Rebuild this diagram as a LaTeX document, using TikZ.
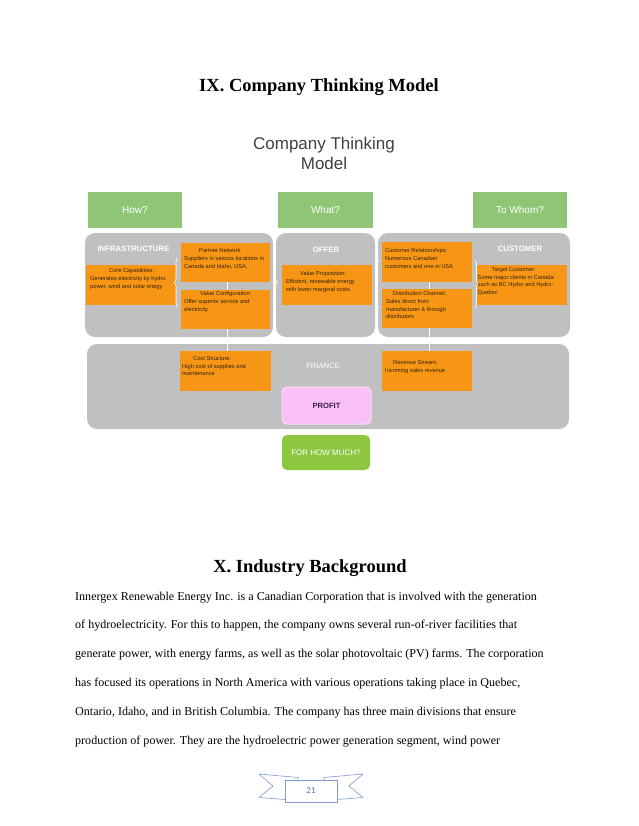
\documentclass[tikz,border=0pt]{standalone}
\usepackage{fontspec}
\setmainfont{Liberation Serif}
\setsansfont{Liberation Sans}
\newfontfamily\carlito{Carlito}
\usetikzlibrary{calc,decorations.pathreplacing}
\definecolor{gbox}{RGB}{192,192,192}
\definecolor{qgreen}{RGB}{143,198,118}
\definecolor{lgreen}{RGB}{141,198,63}
\definecolor{obox}{RGB}{247,150,20}
\definecolor{otext}{RGB}{55,35,15}
\definecolor{pinkbox}{RGB}{248,192,246}
\definecolor{pinkline}{RGB}{252,222,250}
\definecolor{ptext}{RGB}{60,30,70}
\definecolor{ctitle}{RGB}{64,64,64}
\definecolor{ribbon}{RGB}{125,155,205}
\definecolor{pgnum}{RGB}{80,110,170}
\begin{document}
\begin{tikzpicture}[x=1pt,y=-1pt,
  qbox/.style={fill=qgreen, draw=none, inner sep=0pt, text=white,
    font=\sffamily\fontsize{10}{12}\selectfont},
  graybox/.style={fill=gbox, draw=none, rounded corners=10pt, inner sep=0pt},
  orangebox/.style={fill=obox, draw=none, inner sep=0pt},
  otxt/.style={inner sep=0pt, anchor=north west, align=left, text=otext,
    font=\sffamily\fontsize{5.7}{7.6}\selectfont},
  glabel/.style={inner sep=0pt, text=white, font=\sffamily\bfseries\fontsize{7.8}{9}\selectfont},
  link/.style={draw=white, line width=0.8pt},
  bracel/.style={draw=white, line width=0.6pt, decorate,
    decoration={brace, amplitude=4pt}},
  heading/.style={inner sep=0pt, font=\bfseries\fontsize{18.5}{22}\selectfont},
  bodyline/.style={inner sep=0pt, anchor=base west, font=\fontsize{12.05}{14}\selectfont}
]
\useasboundingbox[fill=white] (0,0) rectangle (638,826);

% Title
\node[heading] (title) at (319,87) {IX. Company Thinking Model};

% Diagram title
\node[inner sep=0pt, align=center, text=ctitle,
  font=\sffamily\fontsize{17}{20}\selectfont] (ctm) at (324,153) {Company Thinking\\Model};

% Question boxes
\node[qbox, minimum width=94pt, minimum height=36pt] (how) at (135,210) {How?};
\node[qbox, minimum width=95pt, minimum height=36pt] (what) at (325.5,210) {What?};
\node[qbox, minimum width=94pt, minimum height=36pt] (whom) at (520,210) {To Whom?};

% Gray areas
\node[graybox, minimum width=188pt, minimum height=104pt] (infra) at (179,285) {};
\node[graybox, minimum width=99pt, minimum height=104pt] (offer) at (325.5,285) {};
\node[graybox, minimum width=192pt, minimum height=104pt] (customer) at (474,285) {};
\node[graybox, minimum width=482pt, minimum height=85pt] (finance) at (328,386.5) {};

% Gray labels
\node[glabel] (linfra) at (133.5,249) {INFRASTRUCTURE};
\node[glabel] (loffer) at (326,250) {OFFER};
\node[glabel] (lcust) at (520,249) {CUSTOMER};
\node[inner sep=0pt, text=white, font=\sffamily\fontsize{7.6}{9}\selectfont] (lfin) at (323,366) {FINANCE};

% Orange boxes
\node[orangebox, minimum width=90pt, minimum height=40pt] (core) at (131,285) {};
\node[orangebox, minimum width=89pt, minimum height=39pt] (pn) at (225.5,262.5) {};
\node[orangebox, minimum width=89pt, minimum height=39pt] (vc) at (225.5,309.5) {};
\node[orangebox, minimum width=90pt, minimum height=40pt] (vp) at (327,285) {};
\node[orangebox, minimum width=90pt, minimum height=40pt] (cr) at (427,262) {};
\node[orangebox, minimum width=90pt, minimum height=39pt] (dc) at (427,308.5) {};
\node[orangebox, minimum width=90pt, minimum height=40pt] (tc) at (522,285) {};
\node[orangebox, minimum width=91pt, minimum height=40pt] (cs) at (225.5,371) {};
\node[orangebox, minimum width=90pt, minimum height=40pt] (rs) at (427,371) {};

% Links between stacked boxes
\draw[link] ($(pn.south)+(1.5,0)$) -- ($(vc.north)+(1.5,0)$);
\draw[link] ($(vc.south)+(1.5,0)$) -- ($(cs.north)+(1.5,0)$);
\draw[link] ($(cr.south)+(2,0)$) -- ($(dc.north)+(2,0)$);
\draw[link] ($(dc.south)+(2,0)$) -- ($(rs.north)+(2,0)$);

% Braces
\coordinate (b1a) at (178,307); \coordinate (b1b) at (178,258);
\coordinate (b2a) at (273.5,258); \coordinate (b2b) at (273.5,307);
\coordinate (b3a) at (379.5,308); \coordinate (b3b) at (379.5,260);
\coordinate (b4a) at (474.5,260); \coordinate (b4b) at (474.5,308);
\draw[bracel] (b1a) -- (b1b);
\draw[bracel] (b2a) -- (b2b);
\draw[bracel] (b3a) -- (b3b);
\draw[bracel] (b4a) -- (b4b);

% Orange box texts
\node[otxt] (tcore) at (90,268.5) {\hspace*{19pt}Core Capabilities:\\Generates electricity by hydro\\power, wind and solar enegy};
\node[otxt] (tpn) at (184,248.5) {\hspace*{15pt}Partner Network\\Suppliers in various locations in\\Canada and Idaho, USA.};
\node[otxt] (tvc) at (184,291.5) {\hspace*{16pt}Value Configuration:\\Offer superior service and\\electricity};
\node[otxt] (tvp) at (286,271.5) {\hspace*{14pt}Value Proposition:\\Efficient, renewable energy\\with lower marginal costs};
\node[otxt] (tcr) at (385,248.5) {Customer Relationships:\\Numerous Canadian\\customers and one in USA};
\node[otxt] (tdc) at (386,291.5) {\hspace*{7pt}Distribution Channel:\\Sales direct from\\manufacturer \& through\\distributors};
\node[otxt] (ttc) at (477.5,267.5) {\hspace*{14pt}Target Customer:\\Some major clients in Canada\\such as BC Hydro and Hydro-\\Quebec};
\node[otxt] (tcs) at (182,356.5) {\hspace*{11pt}Cost Structure:\\High cost of supplies and\\maintenance};
\node[otxt] (trs) at (385,360.5) {\hspace*{8pt}Revenue Stream:\\Incoming sales revenue};

% Profit and For how much
\node[fill=pinkbox, draw=pinkline, line width=1pt, rounded corners=5pt,
  minimum width=89pt, minimum height=37pt, inner sep=0pt, text=ptext,
  font=\sffamily\bfseries\fontsize{7.6}{9}\selectfont] (profit) at (326.5,405.5) {PROFIT};
\node[fill=lgreen, draw=none, rounded corners=5pt,
  minimum width=88pt, minimum height=35pt, inner sep=0pt, text=white,
  font=\sffamily\fontsize{8}{10}\selectfont] (fhm) at (326,452.5) {FOR HOW MUCH?};

% Section heading and body
\node[heading] (sec) at (310,568) {X. Industry Background};
\node[bodyline] (l1) at (75,600) {Innergex Renewable Energy Inc. is a Canadian Corporation that is involved with the generation};
\node[bodyline] (l2) at (75,628.8) {of hydroelectricity. For this to happen, the company owns several run-of-river facilities that};
\node[bodyline] (l3) at (75,657.6) {generate power, with energy farms, as well as the solar photovoltaic (PV) farms. The corporation};
\node[bodyline] (l4) at (75,686.4) {has focused its operations in North America with various operations taking place in Quebec,};
\node[bodyline] (l5) at (75,715.2) {Ontario, Idaho, and in British Columbia. The company has three main divisions that ensure};
\node[bodyline] (l6) at (75,744) {production of power. They are the hydroelectric power generation segment, wind power};

% Page number ribbon
\draw[ribbon, line width=0.6pt, line join=round]
  (298,780) -- (298,777.5) -- (259,774) -- (273,786) -- (259,797.5) -- (285,799.5);
\draw[ribbon, line width=0.6pt, line join=round]
  (324,780) -- (324,777.5) -- (363,774) -- (349,786) -- (363,797.5) -- (337,799.5);
\node[draw=ribbon, fill=white, line width=0.6pt, minimum width=52pt, minimum height=22pt,
  inner sep=0pt, text=pgnum, font=\carlito\fontsize{9}{10}\selectfont] (pg) at (311,791) {21};
\end{tikzpicture}
\end{document}
